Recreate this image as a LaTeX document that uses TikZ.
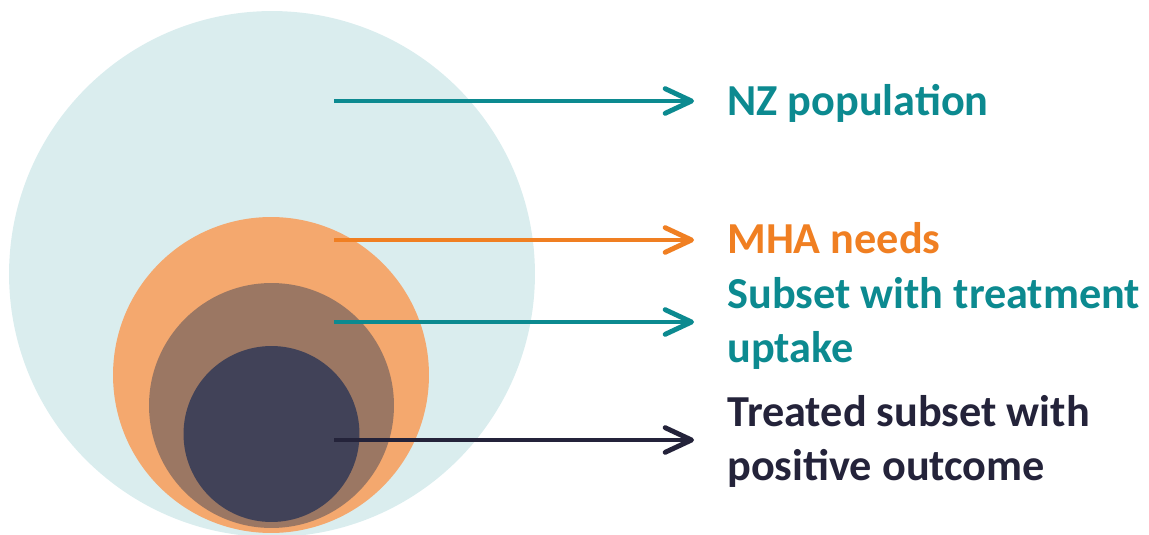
\documentclass[tikz,border=0pt]{standalone}
\usepackage{fontspec}
\setmainfont{Carlito}
\usetikzlibrary{arrows.meta}
\definecolor{popfill}{HTML}{DAEDEE}
\definecolor{needfill}{HTML}{F4A86E}
\definecolor{uptakefill}{HTML}{9B7763}
\definecolor{outcomefill}{HTML}{414258}
\definecolor{myteal}{HTML}{0C8A90}
\definecolor{myorange}{HTML}{F07F22}
\definecolor{mydark}{HTML}{24233A}
\tikzset{>={Straight Barb[length=15pt,width=14pt,line cap=round,line join=round]}}
\tikzstyle{pointer}=[->,line width=2.8pt,shorten >=0.66cm]
\tikzstyle{lbl}=[anchor=base west,inner sep=0,align=left,font=\bfseries\fontsize{25.2}{30.2}\selectfont]

\begin{document}
\begin{tikzpicture}[x=0.02cm,y=-0.02cm]
  \useasboundingbox (0,0) rectangle (1149,534);

  % CIRCLES
  \fill[popfill]     (272,274)     circle (5.26cm);
  \fill[needfill]    (271,375)     circle (3.16cm);
  \fill[uptakefill]  (271.5,405.5) circle (2.45cm);
  \fill[outcomefill] (271.5,434)   circle (1.76cm);

  % START POINTS
  \coordinate (pop)     at (334,101);
  \coordinate (need)    at (334,240);
  \coordinate (uptake)  at (334,322);
  \coordinate (outcome) at (334,440);

  % LABELS (base = last line)
  \node[lbl,myteal]   (popL)     at (727,115) {NZ population};
  \node[lbl,myorange] (needL)    at (727,253) {MHA needs};
  \node[lbl,myteal]   (uptakeL)  at (727,362) {Subset with treatment\\uptake};
  \node[lbl,mydark]   (outcomeL) at (727,480) {Treated subset with\\positive outcome};

  % ARROWS
  \draw[pointer,myteal]   (pop)     -- (pop -| popL.west);
  \draw[pointer,myorange] (need)    -- (need -| needL.west);
  \draw[pointer,myteal]   (uptake)  -- (uptake -| uptakeL.west);
  \draw[pointer,mydark]   (outcome) -- (outcome -| outcomeL.west);
\end{tikzpicture}
\end{document}
